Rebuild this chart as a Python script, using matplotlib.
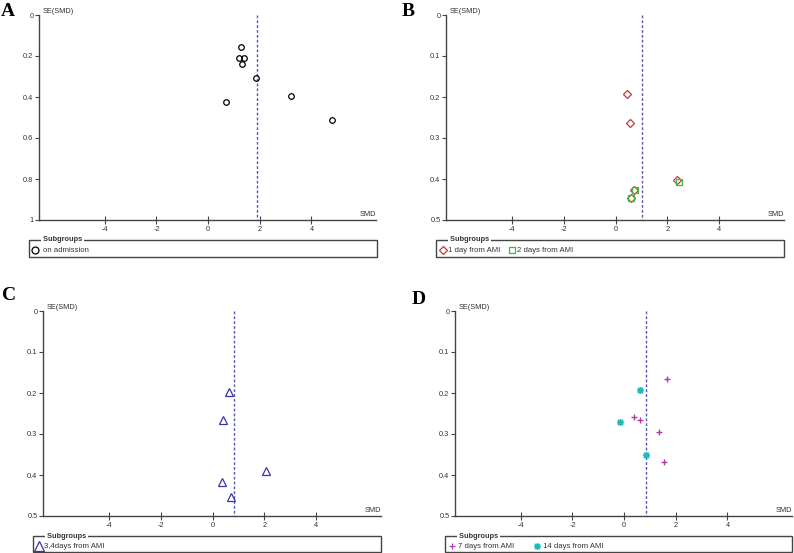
import matplotlib
matplotlib.use("Agg")
import matplotlib.pyplot as plt
from matplotlib.patches import Rectangle

plt.rcParams["font.family"] = "sans-serif"
plt.rcParams["font.sans-serif"] = ["Liberation Sans", "DejaVu Sans"]

W, H = 794, 553

# panel A: on admission
a_smd = [1.29, 1.19, 1.40, 1.32, 1.84, 0.69, 3.22, 4.81]
a_se = [0.154, 0.208, 0.208, 0.241, 0.309, 0.423, 0.393, 0.512]
a_pooled = 1.88

# panel B: 1 day / 2 days from AMI
b1_smd = [0.44, 0.55, 2.35, 0.72, 0.59]
b1_se = [0.193, 0.264, 0.403, 0.427, 0.446]
b2_smd = [2.44, 0.74, 0.61]
b2_se = [0.407, 0.427, 0.446]
b_pooled = 1.03

# panel C: 3,4 days from AMI
c_smd = [0.63, 0.41, 2.05, 0.36, 0.72]
c_se = [0.197, 0.265, 0.390, 0.416, 0.453]
c_pooled = 0.81

# panel D: 7 days / 14 days from AMI
d7_smd = [1.65, 0.37, 0.60, 1.36, 1.56]
d7_se = [0.165, 0.259, 0.267, 0.294, 0.369]
d14_smd = [0.63, -0.17, 0.86]
d14_se = [0.192, 0.270, 0.351]
d_pooled = 0.83

xticks = [-4, -2, 0, 2, 4]
TXT = "#333333"
DASH = "#5555bb"
FS = 5.3

fig = plt.figure(figsize=(W / 100, H / 100), dpi=100)


def px_axes(left, right, top, bottom):
    return fig.add_axes([left / W, 1 - bottom / H, (right - left) / W, (bottom - top) / H])


def funnel(ax, ymax, yticks, ylabels, pooled):
    ax.set_xlim(-6.55, 6.5)
    ax.set_ylim(ymax, 0)
    for s in ["top", "right"]:
        ax.spines[s].set_visible(False)
    for s in ["left", "bottom"]:
        ax.spines[s].set_color("#444444")
        ax.spines[s].set_linewidth(1.0)
    ax.set_xticks(xticks)
    ax.set_xticklabels([str(t) for t in xticks], fontsize=FS, color=TXT)
    ax.set_yticks(yticks)
    ax.set_yticklabels(ylabels, fontsize=FS, color=TXT)
    ax.tick_params(axis="x", direction="inout", length=6, width=0.8, color="#444444", pad=1)
    ax.tick_params(axis="y", direction="out", length=3, width=0.8, color="#444444", pad=1)
    ax.plot([pooled, pooled], [0, ymax], ls=(0, (2, 1.5)), color=DASH, lw=1.0, zorder=1)
    ax.text(0.012, 1.0, "SE(SMD)", transform=ax.transAxes, fontsize=FS, color=TXT,
            ha="left", va="bottom")
    ax.text(1.0, 0.012, "SMD", transform=ax.transAxes, fontsize=FS, color=TXT,
            ha="right", va="bottom")


def legend_box(left, right, top, bottom, entries):
    fig.patches.append(Rectangle((left / W, 1 - bottom / H), (right - left) / W,
                                 (bottom - top) / H, transform=fig.transFigure,
                                 fill=False, edgecolor="#444444", lw=1.0))
    fig.text((left + 12) / W, 1 - top / H, " Subgroups ", fontsize=FS, fontweight="bold",
             color=TXT, ha="left", va="center",
             bbox=dict(facecolor="white", edgecolor="none", pad=0))
    ymid = 1 - (top + 10) / H
    for mx, tx, marker, color, ms, label in entries:
        fig.lines.append(plt.Line2D([mx / W], [ymid], transform=fig.transFigure,
                                    marker=marker, ms=ms, mfc="none", mec=color,
                                    mew=0.9, ls="none"))
        fig.text(tx / W, ymid, label, fontsize=5.6, color=TXT, ha="left", va="center")


kw = dict(mfc="none", ls="none", mew=0.9)

# A
ax = px_axes(39, 376, 15, 220)
funnel(ax, 1.0, [0, 0.2, 0.4, 0.6, 0.8, 1.0], ["0", "0.2", "0.4", "0.6", "0.8", "1"], a_pooled)
ax.plot(a_smd, a_se, marker="o", ms=4, mec="black", **kw)
legend_box(29, 377, 240, 257, [(35, 43, "o", "black", 5, "on admission")])

# B
ax = px_axes(446, 784, 15, 220)
funnel(ax, 0.5, [0, 0.1, 0.2, 0.3, 0.4, 0.5], ["0", "0.1", "0.2", "0.3", "0.4", "0.5"], b_pooled)
ax.plot(b1_smd, b1_se, marker="D", ms=4, mec="#c0393b", **kw)
ax.plot(b2_smd, b2_se, marker="s", ms=4, mec="#3cb83c", **kw)
legend_box(436, 784, 240, 257, [(443, 448, "D", "#c0393b", 4.5, "1 day from AMI"),
                                (512, 517, "s", "#3cb83c", 4.5, "2 days from AMI")])

# C
ax = px_axes(43, 381, 311, 516)
funnel(ax, 0.5, [0, 0.1, 0.2, 0.3, 0.4, 0.5], ["0", "0.1", "0.2", "0.3", "0.4", "0.5"], c_pooled)
ax.plot(c_smd, c_se, marker="^", ms=5.5, mec="#3a33a8", **kw)
legend_box(33, 381, 536, 552, [(39, 44, "^", "#3a33a8", 7, "3,4days from AMI")])

# D
ax = px_axes(455, 792, 311, 516)
funnel(ax, 0.5, [0, 0.1, 0.2, 0.3, 0.4, 0.5], ["0", "0.1", "0.2", "0.3", "0.4", "0.5"], d_pooled)
ax.plot(d7_smd, d7_se, marker="+", ms=5, mec="#b03ab0", ls="none", mew=1.0)
ax.plot(d14_smd, d14_se, marker=(8, 2, 0), ms=5, mec="#22bbbb", ls="none", mew=1.0)
legend_box(445, 792, 536, 552, [(452, 458, "+", "#b03ab0", 5, "7 days from AMI"),
                                (537, 543, (8, 2, 0), "#22bbbb", 5, "14 days from AMI")])

# panel letters
for x, y, letter in [(1, 11, "A"), (402, 11, "B"), (2, 296, "C"), (412, 300, "D")]:
    fig.text(x / W, 1 - y / H, letter, fontsize=14, fontweight="bold",
             family=["Liberation Serif", "DejaVu Serif"], ha="left", va="center")

fig.savefig("out.png", dpi=100)
